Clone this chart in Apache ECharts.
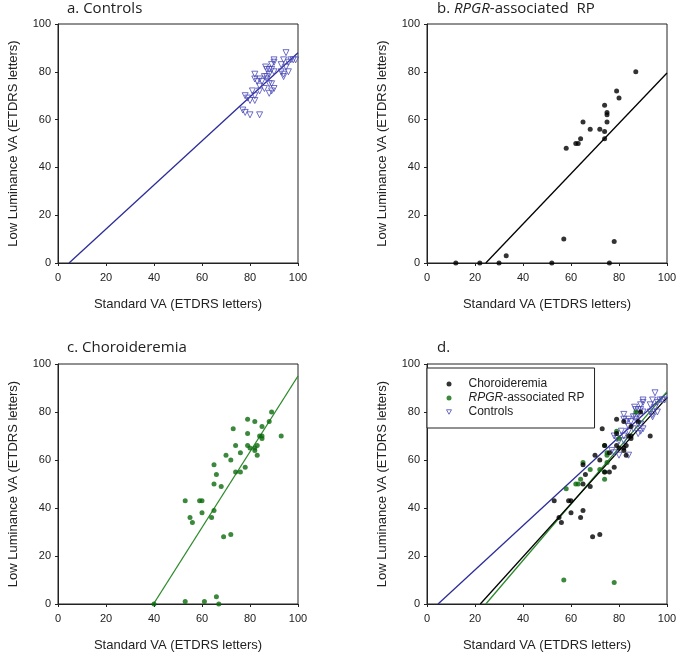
<!DOCTYPE html>
<html>
<head>
<meta charset="utf-8">
<script src="https://cdn.jsdelivr.net/npm/echarts@6/dist/echarts.min.js"></script>
<style>html,body{margin:0;padding:0;background:#fff}#c{width:680px;height:656px}</style>
</head>
<body>
<div id="c"></div>
<script>
// ---- data ----
var axisTicks = [0, 20, 40, 60, 80, 100];

var controls = [
  [78,70],[77,64],[78,63],[80,62],[79,69],[80,68],[82,68],[82,70],[84,62],
  [82,79],[82,77],[83,76],[84,77],[85,76],[84,72],[86,73],[86,78],[87,81],
  [88,79],[87,77],[88,75],[88,71],[89,72],[90,73],[89,75],[90,84],[89,83],
  [88,81],[89,81],[90,80],[90,85],[93,83],[94,85],[95,88],[94,79],[94,78],
  [93,80],[96,80],[96,84],[97,85],[98,85],[99,85],[95,82],[87,78],[84,74],
  [81,72],[86.5,82]
];

var rpgr = [
  [12,0],[22,0],[30,0],[33,3],[52,0],[57,10],[58,48],[62,50],[63,50],[64,52],
  [65,59],[68,56],[72,56],[74,55],[74,66],[74,52],[75,63],[75,62],[75,59],
  [76,0],[78,9],[79,72],[80,69],[87,80]
];

var chor = [
  [40,0],[53,1],[53,43],[55,36],[56,34],[59,43],[60,43],[60,38],[61,1],[64,36],
  [65,58],[65,50],[65,39],[66,54],[66,3],[67,0],[68,49],[69,28],[70,62],[72,60],
  [72,29],[74,55],[74,66],[73,73],[76,63],[76,55],[78,57],[79,77],[79,71],[79,66],
  [80,65],[82,76],[82,65],[82,64],[83,66],[83,62],[84,70],[85,70],[85,69],[85,74],
  [88,76],[89,80],[93,70]
];

// regression lines (end points)
var fitControls = [[4.6,0],[100,88]];
var fitRpgrB    = [[24.5,0],[100,79.5]];
var fitChorC    = [[39.8,0],[100,95]];
var fitChorD    = [[22.2,0],[100,86]];
var fitRpgrD    = [[24.5,0],[100,88.5]];

var xName = 'Standard VA (ETDRS letters)';
var yName = 'Low Luminance VA (ETDRS letters)';

// ---- styles ----
var BLUE_PT = '#4a4ab8', BLUE_LN = '#2c2c98';
var GREEN_PT = '#0b6a0b', GREEN_LN = '#2b8a2b';
var BLACK = '#000';
var FONT = 'Liberation Sans, Arial, sans-serif';

var grids = [
  {left: 58,  top: 24,  width: 240, height: 239},
  {left: 427, top: 24,  width: 240, height: 239},
  {left: 58,  top: 364, width: 240, height: 240},
  {left: 427, top: 364, width: 240, height: 240}
].map(function (g) {
  return Object.assign({show: true, borderColor: '#222', borderWidth: 1, backgroundColor: 'transparent'}, g);
});

function mkAxis(i, isX) {
  return {
    type: 'value', gridIndex: i, min: 0, max: 100, interval: 20,
    name: isX ? xName : yName,
    nameLocation: 'middle',
    nameGap: isX ? 35 : 38,
    nameRotate: isX ? 0 : 90,
    nameTextStyle: {fontFamily: FONT, fontSize: 13, color: '#222'},
    axisLine: {show: true, lineStyle: {color: '#222', width: 1}},
    axisTick: {show: true, length: 3, inside: false, lineStyle: {color: '#222'}},
    axisLabel: {fontFamily: FONT, fontSize: 11, color: '#222', margin: isX ? 9 : 7,
      customValues: axisTicks},
    splitLine: {show: false}
  };
}

function scat(name, data, xi, color, tri) {
  return {
    name: name, type: 'scatter', xAxisIndex: xi, yAxisIndex: xi, data: data,
    symbol: tri ? 'triangle' : 'circle',
    symbolRotate: tri ? 180 : 0,
    symbolSize: tri ? 6 : 5,
    itemStyle: tri ? {color: 'rgba(255,255,255,0)', borderColor: color, borderWidth: 1} : {color: color},
    silent: true, z: 3
  };
}
function fit(data, xi, color) {
  return {
    type: 'line', xAxisIndex: xi, yAxisIndex: xi, data: data, symbol: 'none',
    lineStyle: {color: color, width: 1.3}, silent: true, z: 2
  };
}

var TF = 'Open Sans, sans-serif';
var titleStyle = {fontFamily: TF, fontSize: 15, fontWeight: 'normal', color: '#222',
  rich: {
    n: {fontFamily: TF, fontSize: 15, color: '#222'},
    i: {fontFamily: TF, fontSize: 15, color: '#222', fontStyle: 'italic'}
  }};

var option = {
  animation: false,
  backgroundColor: '#fff',
  title: [
    {text: 'a. Controls', left: 67, top: 1, padding: 0, textStyle: titleStyle},
    {text: '{n|b. }{i|RPGR}{n|-associated  RP}', left: 437, top: 1, padding: 0, textStyle: titleStyle},
    {text: 'c. Choroideremia', left: 67, top: 340, padding: 0, textStyle: titleStyle},
    {text: 'd.', left: 437, top: 340, padding: 0, textStyle: titleStyle}
  ],
  grid: grids,
  xAxis: [0,1,2,3].map(function (i) { return mkAxis(i, true); }),
  yAxis: [0,1,2,3].map(function (i) { return mkAxis(i, false); }),
  legend: {
    data: [
      {name: 'Choroideremia'},
      {name: 'RPGR-associated RP'},
      {name: 'Controls', icon: 'path://M0,0 L10,0 L5,9 Z',
        itemStyle: {color: 'rgba(255,255,255,0)', borderColor: BLUE_PT, borderWidth: 1}}
    ],
    orient: 'vertical', left: 427, top: 368,
    backgroundColor: '#fff', borderColor: '#222', borderWidth: 1,
    padding: [10, 10, 10, 19],
    itemWidth: 5, itemHeight: 5, itemGap: 2,
    textStyle: {fontFamily: FONT, fontSize: 12, color: '#222',
      rich: {
        p: {fontFamily: FONT, fontSize: 12, color: '#222', padding: [0, 0, 0, 12]},
        ip: {fontFamily: FONT, fontSize: 12, color: '#222', fontStyle: 'italic', padding: [0, 0, 0, 12]},
        n: {fontFamily: FONT, fontSize: 12, color: '#222'}
      }},
    formatter: function (n) {
      return n === 'RPGR-associated RP' ? '{ip|RPGR}{n|-associated RP}' : '{p|' + n + '}';
    },
    selectedMode: false
  },
  series: [
    // a
    fit(fitControls, 0, BLUE_LN),
    scat('Controls', controls, 0, BLUE_PT, true),
    // b
    fit(fitRpgrB, 1, BLACK),
    scat('RPGR b', rpgr, 1, BLACK, false),
    // c
    fit(fitChorC, 2, GREEN_LN),
    scat('Chor c', chor, 2, GREEN_PT, false),
    // d
    fit(fitControls, 3, BLUE_LN),
    fit(fitRpgrD, 3, GREEN_LN),
    fit(fitChorD, 3, BLACK),
    scat('Controls', controls, 3, BLUE_PT, true),
    scat('RPGR-associated RP', rpgr.filter(function (p) { return p[1] > 5; }), 3, GREEN_PT, false),
    scat('Choroideremia', chor.filter(function (p) { return p[1] > 5; }), 3, BLACK, false)
  ]
};

var chart = echarts.init(document.getElementById('c'), null, {renderer: 'canvas'});
chart.setOption(option);
</script>
</body>
</html>
